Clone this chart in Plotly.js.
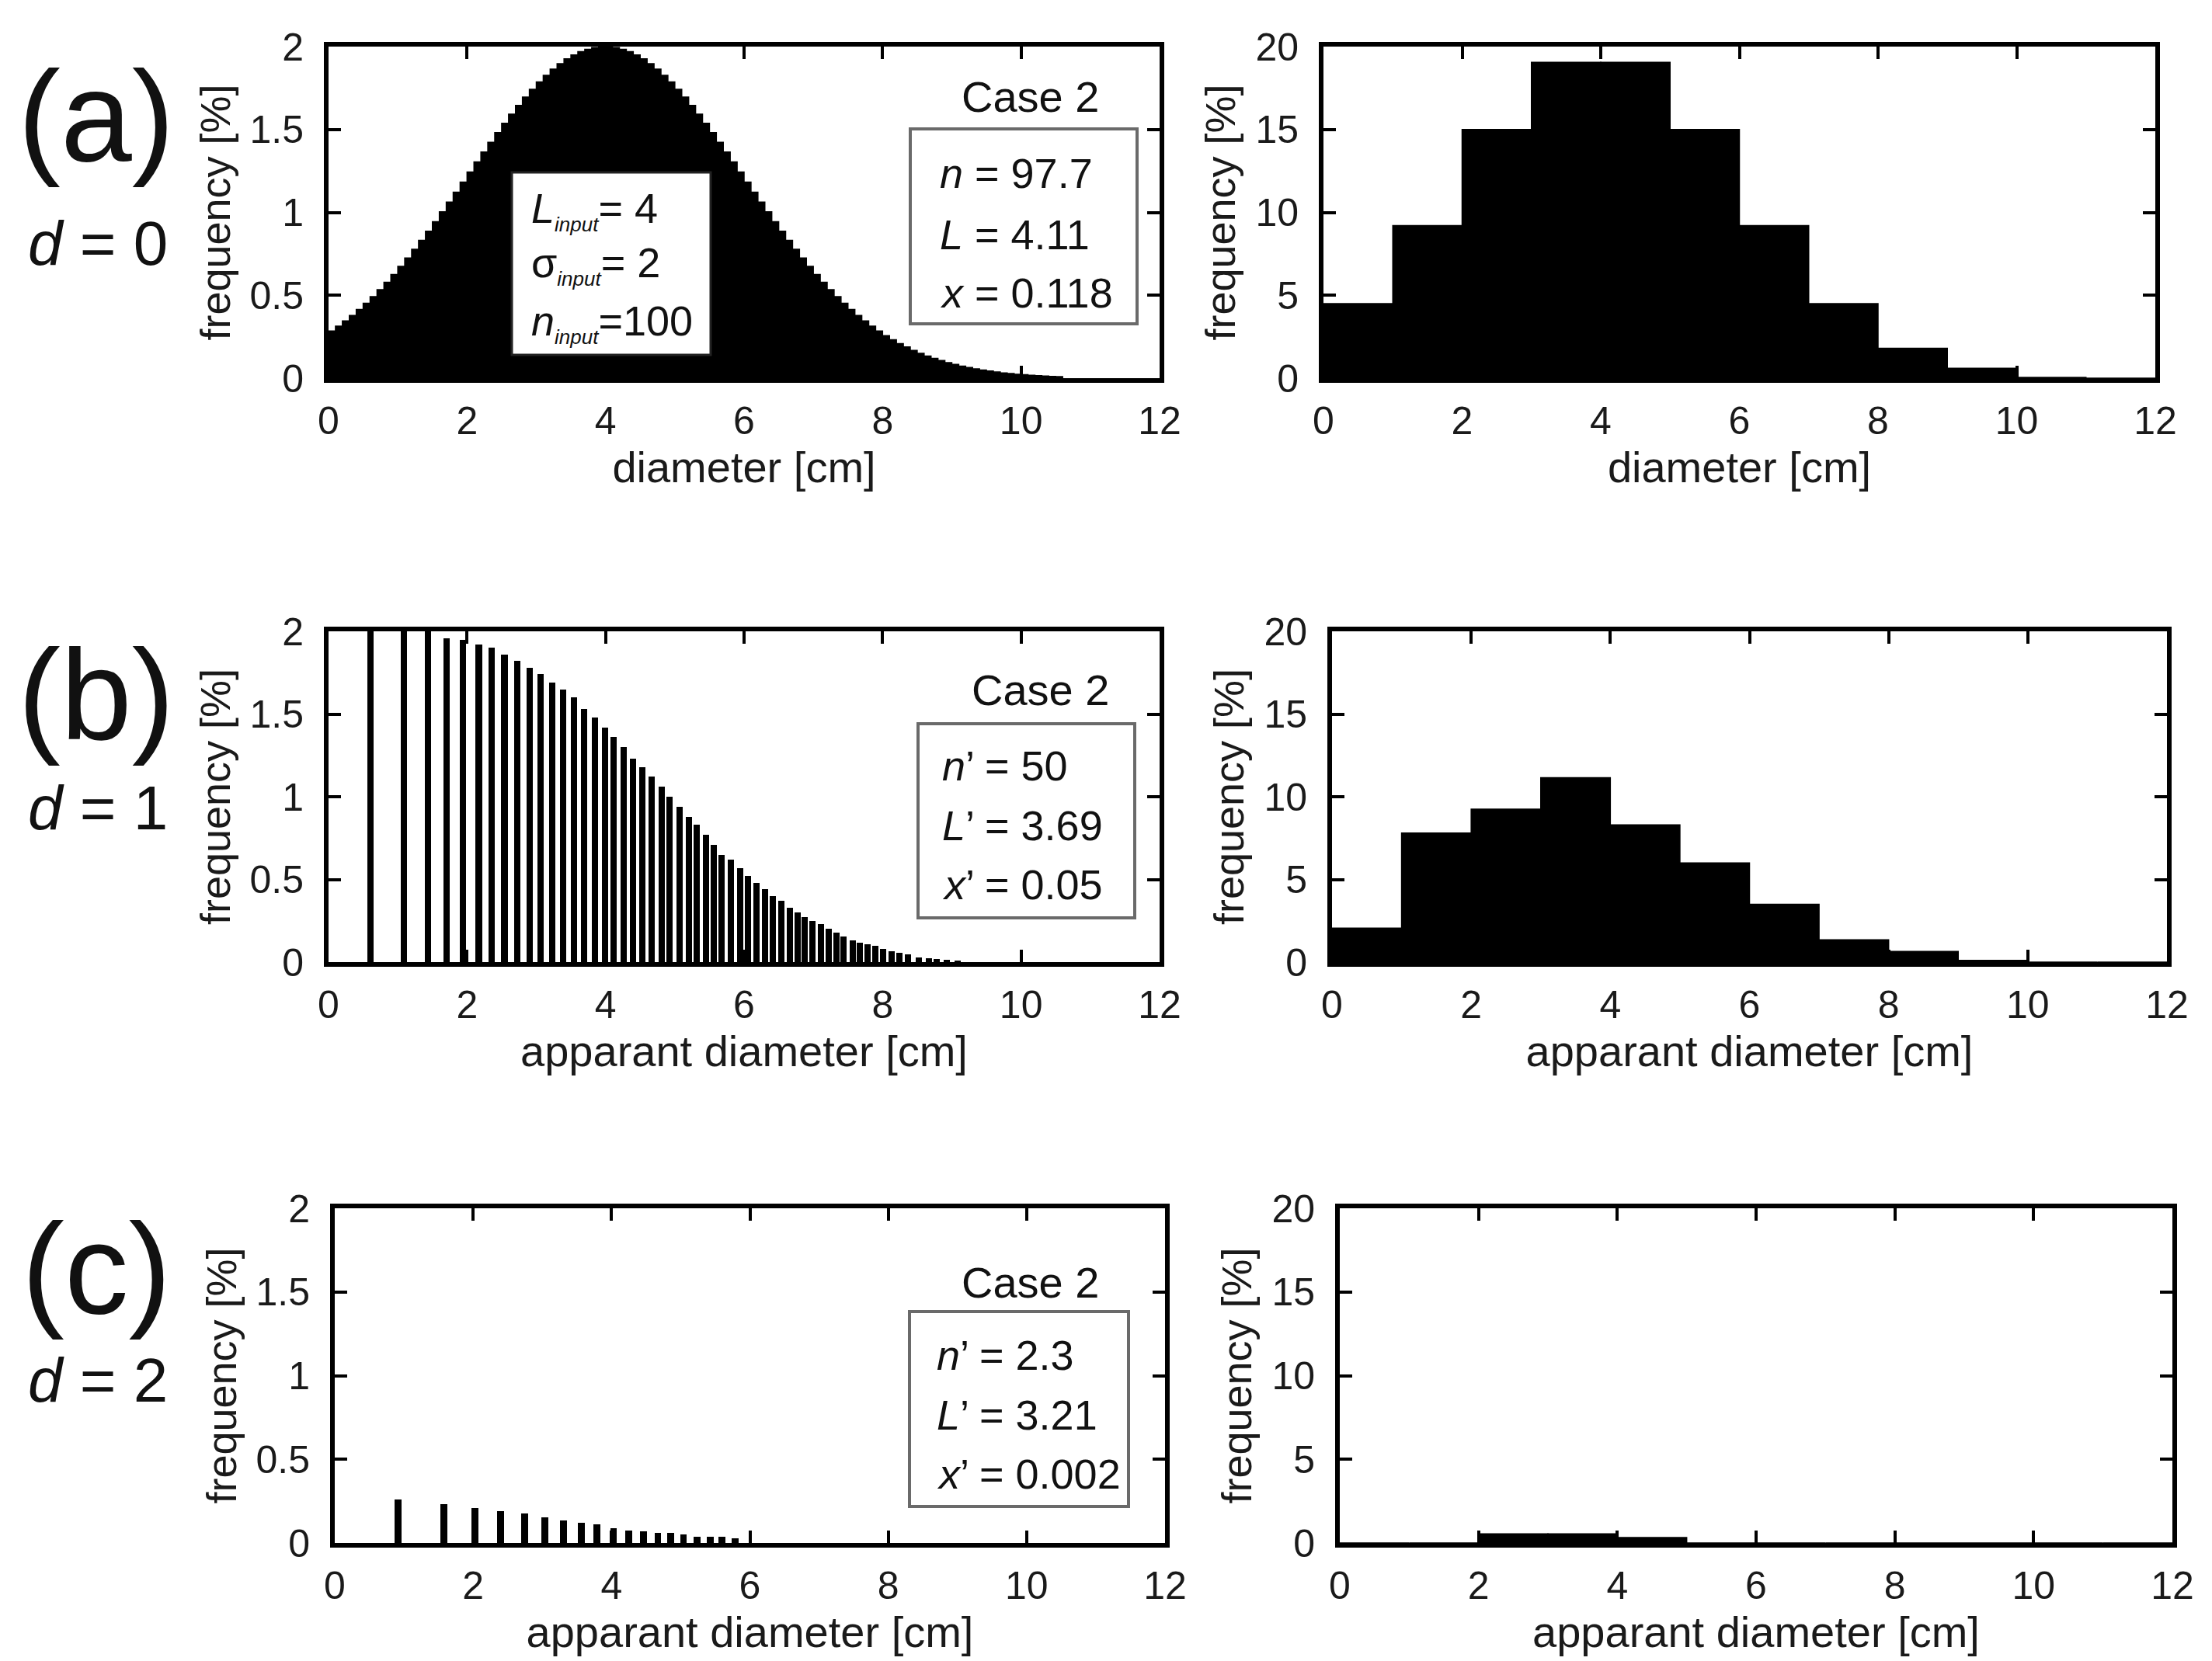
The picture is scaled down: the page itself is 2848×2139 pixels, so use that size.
<!DOCTYPE html>
<html>
<head>
<meta charset="utf-8">
<script src="https://cdn.plot.ly/plotly-3.0.1.min.js"></script>
<style>html,body{margin:0;padding:0;background:#fff;}#chart{width:2848px;height:2139px;}</style>
</head>
<body>
<div id="chart"></div>
<script>
// ---------- DATA ----------
// (a) left: fine histogram (bin width 0.1 cm, starting at 0)
const aFineFreq = [
  0.284,0.314,0.345,0.378,0.414,0.452,0.492,0.534,0.579,0.625,
  0.674,0.725,0.777,0.831,0.887,0.944,1.003,1.062,1.122,1.183,
  1.243,1.304,1.364,1.423,1.481,1.538,1.593,1.645,1.695,1.742,
  1.787,1.827,1.864,1.897,1.926,1.950,1.970,1.984,1.994,1.999,
  1.999,1.994,1.984,1.970,1.950,1.926,1.897,1.864,1.827,1.787,
  1.742,1.695,1.645,1.593,1.538,1.481,1.423,1.364,1.304,1.243,
  1.183,1.122,1.062,1.003,0.944,0.887,0.831,0.777,0.725,0.674,
  0.625,0.579,0.534,0.492,0.452,0.414,0.378,0.345,0.314,0.284,
  0.257,0.232,0.209,0.188,0.168,0.150,0.134,0.119,0.106,0.094,
  0.083,0.073,0.064,0.056,0.049,0.043,0.037,0.032,0.028,0.024,
  0.021,0.018,0.015,0.013,0.011,0.009
];
// right column: 1-cm bins 0-1 ... 11-12
const aCoarseFreq = [4.5, 9.2, 15.0, 19.05, 19.05, 15.0, 9.2, 4.5, 1.8, 0.6, 0.05, 0];
const bCoarseFreq = [2.05, 7.8, 9.25, 11.15, 8.3, 6.0, 3.5, 1.35, 0.65, 0.1, 0, 0];
const cCoarseFreq = [0, 0, 0.55, 0.55, 0.32, 0, 0, 0, 0, 0, 0, 0];

// (b) left: apparent diameters and frequencies
const bDiam = [0.61,1.09,1.43,1.70,1.94,2.17,2.36,2.54,2.73,2.91,3.06,3.23,3.39,3.54,3.69,
  3.85,3.99,4.12,4.26,4.40,4.53,4.66,4.81,4.92,5.07,5.20,5.32,5.45,5.56,5.68,
  5.81,5.94,6.06,6.18,6.30,6.41,6.54,6.66,6.77,6.88,6.99,7.11,7.22,7.33,7.44,
  7.57,7.67,7.78,7.90,8.01,8.13,8.24,8.37,8.52,8.67,8.78,8.93,9.08];
const bFreq = [2.05,2.01,2.0,1.96,1.95,1.92,1.90,1.86,1.82,1.78,1.74,1.69,1.65,1.60,1.53,
  1.48,1.42,1.36,1.30,1.23,1.18,1.12,1.06,1.00,0.94,0.88,0.83,0.77,0.71,0.65,
  0.62,0.57,0.52,0.48,0.44,0.40,0.37,0.33,0.30,0.27,0.25,0.23,0.20,0.18,0.155,
  0.13,0.116,0.108,0.097,0.081,0.066,0.056,0.045,0.03,0.025,0.02,0.014,0.01];

// (c) left
const cDiam = [0.91,1.58,2.03,2.40,2.74,3.04,3.31,3.56,3.79,4.03,4.25,4.46,4.67,4.86,5.04,5.24,5.43,5.60,5.79];
const cFreq = [0.26,0.23,0.21,0.19,0.177,0.153,0.133,0.12,0.11,0.086,0.075,0.07,0.06,0.06,0.052,0.035,0.035,0.035,0.03];

const xTitles = ["diameter [cm]", "apparant diameter [cm]", "apparant diameter [cm]"];
const yTitle = "frequency [%]";
const panelLabels = ["(a)", "(b)", "(c)"];
const depthLabels = ["<i>d</i> = 0", "<i>d</i> = 1", "<i>d</i> = 2"];
const caseLabel = "Case 2";
const inputLines = ["<i>L</i><sub><span style=\"font-size:26px\"><i>input</i></span></sub>= 4",
                    "σ<sub><span style=\"font-size:26px\"><i>input</i></span></sub>= 2",
                    "<i>n</i><sub><span style=\"font-size:26px\"><i>input</i></span></sub>=100"];
const statLines = [
  ["<i>n</i> = 97.7", "<i>L</i> = 4.11", "<i>x</i> = 0.118"],
  ["<i>n</i>’ = 50", "<i>L</i>’ = 3.69", "<i>x</i>’ = 0.05"],
  ["<i>n</i>’ = 2.3", "<i>L</i>’ = 3.21", "<i>x</i>’ = 0.002"]
];

// ---------- LAYOUT HELPERS ----------
const W = 2848, H = 2139;
const FONT = "Liberation Sans, Arial, Helvetica, sans-serif";
const px = v => v / W;
const py = v => 1 - v / H;

// plot boxes in pixels [x0, x1, y0(top), y1(bottom)]
const boxes = {
  aL: [423, 1493, 60, 487],  aR: [1704, 2775, 60, 487],
  bL: [423, 1493, 813, 1239], bR: [1715, 2790, 813, 1239],
  cL: [431, 1500, 1556, 1987], cR: [1725, 2797, 1556, 1987]
};

function xax(b, title, anchor) {
  return {
    domain: [px(b[0]), px(b[1])], anchor: anchor, range: [0, 12],
    tick0: 0, dtick: 2, ticks: 'inside', ticklen: 16, tickwidth: 4, tickcolor: '#000',
    showline: true, linewidth: 6, linecolor: '#000', mirror: 'ticks',
    showgrid: false, zeroline: false, ticklabelstandoff: 6, automargin: true,
    tickfont: {family: FONT, size: 50, color: '#1a1a1a'},
    title: {text: title, font: {family: FONT, size: 56, color: '#1a1a1a'}, standoff: 6}
  };
}
function yax(b, top, anchor) {
  return {
    domain: [py(b[3]), py(b[2])], anchor: anchor, range: [0, top],
    tick0: 0, dtick: top / 4, ticks: 'inside', ticklen: 16, tickwidth: 4, tickcolor: '#000',
    showline: true, linewidth: 6, linecolor: '#000', mirror: 'ticks',
    showgrid: false, zeroline: false, ticklabelstandoff: 16, automargin: true,
    tickfont: {family: FONT, size: 50, color: '#1a1a1a'},
    title: {text: yTitle, font: {family: FONT, size: 54, color: '#1a1a1a'}, standoff: 10}
  };
}

const blk = {color: '#000', line: {color: '#000', width: 1.5}};
const traces = [
  {type: 'bar', x0: 0.05, dx: 0.1, y: aFineFreq, width: 0.1, marker: blk, xaxis: 'x', yaxis: 'y', hoverinfo: 'skip'},
  {type: 'bar', x0: 0.5, dx: 1, y: aCoarseFreq, width: 1, marker: blk, xaxis: 'x2', yaxis: 'y2', hoverinfo: 'skip'},
  {type: 'bar', x: bDiam, y: bFreq, width: 0.09, marker: {color: '#000'}, xaxis: 'x3', yaxis: 'y3', hoverinfo: 'skip'},
  {type: 'bar', x0: 0.5, dx: 1, y: bCoarseFreq, width: 1, marker: blk, xaxis: 'x4', yaxis: 'y4', hoverinfo: 'skip'},
  {type: 'bar', x: cDiam, y: cFreq, width: 0.1, marker: {color: '#000'}, xaxis: 'x5', yaxis: 'y5', hoverinfo: 'skip'},
  {type: 'bar', x0: 0.5, dx: 1, y: cCoarseFreq, width: 1, marker: blk, xaxis: 'x6', yaxis: 'y6', hoverinfo: 'skip'}
];

// annotation helpers
const annotations = [];
function txt(text, x, y, size, xanchor) {
  annotations.push({text: text, xref: 'paper', yref: 'paper', x: px(x), y: py(y),
    xanchor: xanchor || 'center', yanchor: 'middle', align: xanchor === 'left' ? 'left' : 'center',
    showarrow: false, font: {family: FONT, size: size, color: '#111'}});
}
const shapes = [];
function rect(x0, y0, x1, y1, col, w) {
  shapes.push({type: 'rect', xref: 'paper', yref: 'paper', x0: px(x0), x1: px(x1), y0: py(y1), y1: py(y0),
    fillcolor: '#fff', line: {color: col, width: w}, layer: 'above'});
}

// panel labels
const labelY = [[150, 313], [895, 1040], [1634, 1777]];
for (let i = 0; i < 3; i++) {
  txt(panelLabels[i], 124, labelY[i][0], 165);
  txt(depthLabels[i], 126, labelY[i][1], 80);
}
// "Case 2"
txt(caseLabel, 1326, 124, 56);
txt(caseLabel, 1339, 888, 56);
txt(caseLabel, 1326, 1651, 56);

// boxes
rect(659, 222, 915, 457, '#222', 3);
rect(1172, 166, 1464, 417, '#6a6a6a', 4);
rect(1182, 932, 1461, 1182, '#6a6a6a', 4);
rect(1171, 1689, 1453, 1940, '#6a6a6a', 4);

// box text
const inY = [271, 341, 416];
inputLines.forEach((t, i) => txt(t, 682, inY[i], 54, 'left'));
const statPos = [[1208, [223, 302, 377]], [1211, [986, 1063, 1139]], [1204, [1745, 1822, 1898]]];
statLines.forEach((lines, j) => lines.forEach((t, i) => txt(t, statPos[j][0], statPos[j][1][i], 54, 'left')));

const layout = {
  width: W, height: H, margin: {l: 0, r: 0, t: 0, b: 0, autoexpand: false},
  paper_bgcolor: '#fff', plot_bgcolor: '#fff', showlegend: false,
  bargap: 0, barmode: 'overlay',
  font: {family: FONT, color: '#111'},
  xaxis: xax(boxes.aL, xTitles[0], 'y'),   yaxis: yax(boxes.aL, 2, 'x'),
  xaxis2: xax(boxes.aR, xTitles[0], 'y2'), yaxis2: yax(boxes.aR, 20, 'x2'),
  xaxis3: xax(boxes.bL, xTitles[1], 'y3'), yaxis3: yax(boxes.bL, 2, 'x3'),
  xaxis4: xax(boxes.bR, xTitles[1], 'y4'), yaxis4: yax(boxes.bR, 20, 'x4'),
  xaxis5: xax(boxes.cL, xTitles[2], 'y5'), yaxis5: yax(boxes.cL, 2, 'x5'),
  xaxis6: xax(boxes.cR, xTitles[2], 'y6'), yaxis6: yax(boxes.cR, 20, 'x6'),
  annotations: annotations, shapes: shapes
};

Plotly.newPlot('chart', traces, layout, {staticPlot: true, displayModeBar: false});
</script>
</body>
</html>
